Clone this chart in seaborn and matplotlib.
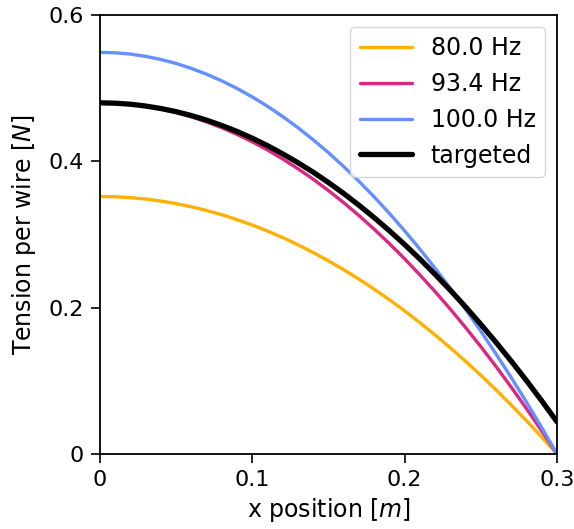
import matplotlib
matplotlib.use("Agg")
import matplotlib.pyplot as plt
import pandas as pd
import seaborn as sns

# values
x_pos = [0.00, 0.01, 0.02, 0.03, 0.04, 0.05, 0.06, 0.07, 0.08, 0.09, 0.10,
         0.11, 0.12, 0.13, 0.14, 0.15, 0.16, 0.17, 0.18, 0.19, 0.20,
         0.21, 0.22, 0.23, 0.24, 0.25, 0.26, 0.27, 0.28, 0.29, 0.30]
t_80 = [0.3520, 0.3516, 0.3504, 0.3485, 0.3457, 0.3422, 0.3379, 0.3328, 0.3270, 0.3203, 0.3129,
        0.3047, 0.2957, 0.2859, 0.2753, 0.2640, 0.2519, 0.2390, 0.2253, 0.2108, 0.1956,
        0.1795, 0.1627, 0.1451, 0.1267, 0.1076, 0.0876, 0.0669, 0.0454, 0.0231, 0.0]
t_934 = [0.4800, 0.4795, 0.4779, 0.4752, 0.4715, 0.4667, 0.4608, 0.4539, 0.4459, 0.4368, 0.4267,
         0.4155, 0.4032, 0.3899, 0.3755, 0.3600, 0.3435, 0.3259, 0.3072, 0.2875, 0.2667,
         0.2448, 0.2219, 0.1979, 0.1728, 0.1467, 0.1195, 0.0912, 0.0619, 0.0315, 0.0]
t_100 = [0.5490, 0.5484, 0.5466, 0.5435, 0.5392, 0.5338, 0.5270, 0.5191, 0.5100, 0.4996, 0.4880,
         0.4752, 0.4612, 0.4459, 0.4294, 0.4118, 0.3928, 0.3727, 0.3514, 0.3288, 0.3050,
         0.2800, 0.2538, 0.2263, 0.1976, 0.1678, 0.1366, 0.1043, 0.0708, 0.0360, 0.0]
t_target = [0.4800, 0.4795, 0.4781, 0.4756, 0.4722, 0.4679, 0.4626, 0.4563, 0.4490, 0.4408, 0.4316,
            0.4214, 0.4102, 0.3981, 0.3851, 0.3710, 0.3560, 0.3400, 0.3230, 0.3051, 0.2862,
            0.2664, 0.2455, 0.2237, 0.2010, 0.1772, 0.1525, 0.1268, 0.1002, 0.0726, 0.0440]

labels = ["80.0 Hz", "93.4 Hz", "100.0 Hz", "targeted"]
colors = ["#FFB000", "#DC267F", "#648FFF", "black"]
widths = [2.4, 2.4, 2.4, 3.8]

sns.set_style("ticks", rc={"text.color": "black", "axes.labelcolor": "black",
                           "xtick.color": "black", "ytick.color": "black",
                           "axes.edgecolor": "black"})
plt.rcParams["font.family"] = ["DejaVu Sans"]

fig = plt.figure(figsize=(5.74, 5.29), dpi=100)
ax = fig.add_axes([0.1742, 0.1418, 0.7962, 0.8298])

for series, lab, col, lw in zip([t_80, t_934, t_100, t_target], labels, colors, widths):
    df = pd.DataFrame({"x": x_pos, "T": series})
    sns.lineplot(data=df, x="x", y="T", ax=ax, color=col, linewidth=lw, label=lab)

ax.set_xlim(0, 0.3)
ax.set_ylim(0, 0.6)
ax.set_xticks([0, 0.1, 0.2, 0.3])
ax.set_xticklabels(["0", "0.1", "0.2", "0.3"])
ax.set_yticks([0, 0.2, 0.4, 0.6])
ax.set_yticklabels(["0", "0.2", "0.4", "0.6"])
ax.tick_params(labelsize=16, length=6.5, width=1.2, pad=5)
for s in ax.spines.values():
    s.set_linewidth(1.3)
ax.set_xlabel("x position [$m$]", fontsize=17)
ax.set_ylabel("Tension per wire [$N$]", fontsize=17, labelpad=8)
ax.legend(loc="upper right", fontsize=17, handlelength=2.2)

fig.savefig("out.png", dpi=100)
